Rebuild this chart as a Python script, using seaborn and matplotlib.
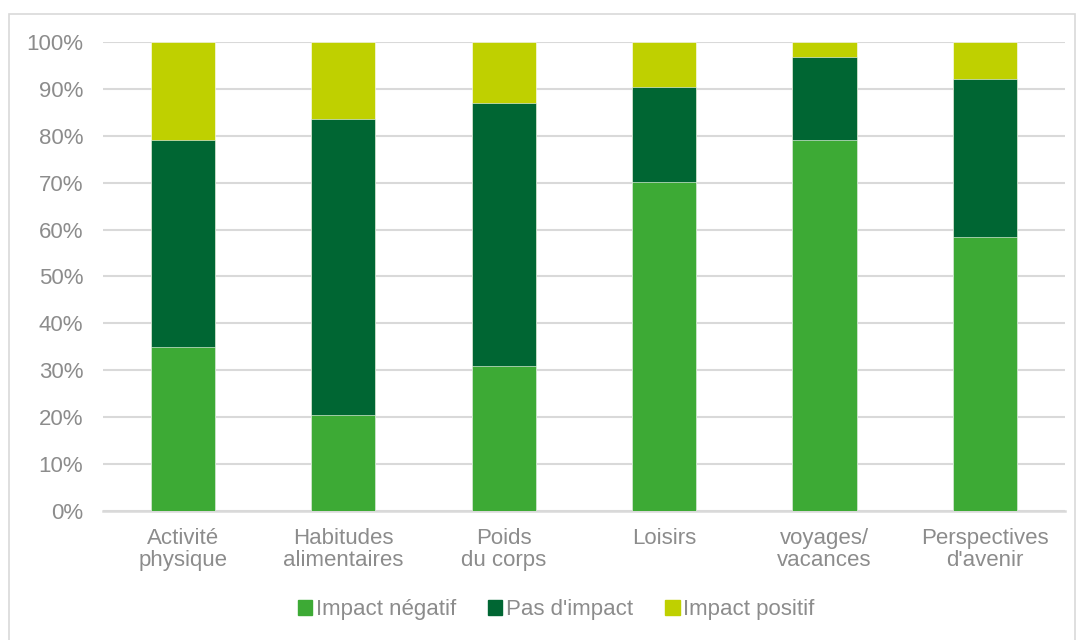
import matplotlib
matplotlib.use("Agg")
import matplotlib.pyplot as plt
from matplotlib.patches import Rectangle
from matplotlib.ticker import PercentFormatter
import numpy as np
import pandas as pd
import seaborn as sns

categories = ["Activité\nphysique", "Habitudes\nalimentaires", "Poids\ndu corps",
              "Loisirs", "voyages/\nvacances", "Perspectives\nd'avenir"]
impact_negatif = [35.0, 20.5, 31.0, 70.1, 79.1, 58.4]
pas_impact = [44.1, 63.1, 56.0, 20.3, 17.6, 33.7]
impact_positif = [20.9, 16.4, 13.0, 9.6, 3.3, 7.9]

series_names = ["Impact négatif", "Pas d'impact", "Impact positif"]
colors = ["#3DAA35", "#006633", "#BFD000"]

sns.set_theme(style="white")
plt.rcParams["font.family"] = ["Liberation Sans", "DejaVu Sans"]

fig = plt.figure(figsize=(10.78, 6.4), dpi=100)
ax = fig.add_axes([0.0953, 0.2016, 0.8927, 0.7328])

# outer frame around the chart
fig.patches.append(Rectangle((9 / 1078, -0.01), 1066 / 1078, 1 - 14 / 640 + 0.01,
                             transform=fig.transFigure, fill=False,
                             edgecolor="#D9D9D9", linewidth=1.2))

neg = np.array(impact_negatif)
mid = np.array(pas_impact)
pos = np.array(impact_positif)
layers = [neg + mid + pos, neg + mid, neg]
layer_colors = [colors[2], colors[1], colors[0]]

for vals, c in zip(layers, layer_colors):
    df = pd.DataFrame({"cat": categories, "val": vals})
    sns.barplot(data=df, x="cat", y="val", color=c, width=0.4, ax=ax,
                edgecolor="white", linewidth=0.4, saturation=1, zorder=3)

ax.set_ylim(0, 100)
ax.set_xlim(-0.5, len(categories) - 0.5)
ax.set_yticks(np.arange(0, 101, 10))
ax.yaxis.set_major_formatter(PercentFormatter(decimals=0))
ax.set_xlabel("")
ax.set_ylabel("")
ax.grid(axis="y", color="#D9D9D9", linewidth=1.5, zorder=0)
ax.set_axisbelow(True)
for s in ["top", "right", "left"]:
    ax.spines[s].set_visible(False)
ax.spines["bottom"].set_color("#D9D9D9")
ax.spines["bottom"].set_linewidth(1.8)
ax.tick_params(axis="both", length=0, labelsize=16, colors="#8C8C8C")
ax.tick_params(axis="x", pad=12)
ax.tick_params(axis="y", pad=14)
for t in ax.get_xticklabels():
    t.set_linespacing(1.1)

handles = [Rectangle((0, 0), 1, 1, color=c) for c in colors]
leg = fig.legend(handles, series_names, loc="center", bbox_to_anchor=(556 / 1078, 1 - 610 / 640),
                 ncol=3, frameon=False, fontsize=16, handlelength=0.65, handleheight=0.65,
                 handletextpad=0.15, columnspacing=1.45)
for t in leg.get_texts():
    t.set_color("#8C8C8C")

fig.savefig("out.png", dpi=100, facecolor="white")
